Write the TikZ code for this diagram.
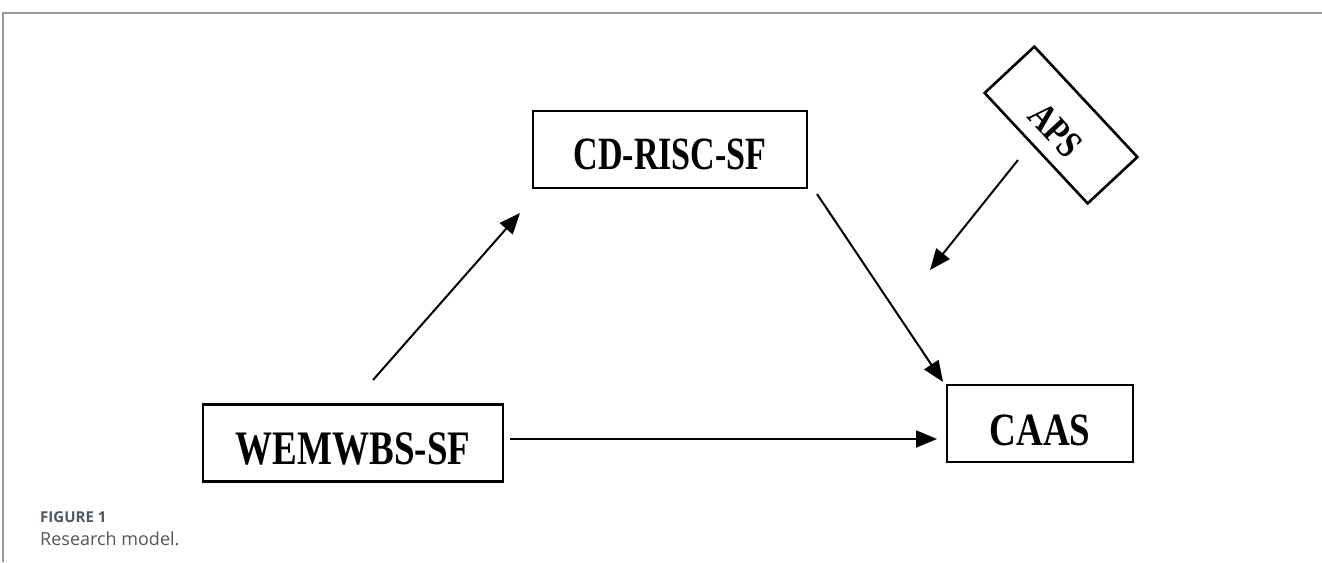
\documentclass[tikz,border=0pt]{standalone}
\usepackage{fontspec}
\setmainfont{Liberation Serif}
\newfontfamily\capfont{Open Sans}
\usetikzlibrary{arrows.meta}
\definecolor{framegray}{HTML}{9A9A9A}
\definecolor{figlabel}{HTML}{4A5868}
\definecolor{captxt}{HTML}{555555}
% #1 size, #2 vertical stretch, #3 baseline shift, #4 text
\newcommand{\boxtxt}[4]{\raisebox{#3}[0pt][0pt]{\scalebox{1}[#2]{\fontsize{#1}{40}\selectfont\bfseries #4}}}
\tikzset{
  varbox/.style={draw=black, line width=2.6pt, inner sep=0pt, minimum height=77pt, align=center},
  conn/.style={line width=2pt, -{Triangle[length=21pt,width=17pt]}},
}
\begin{document}
\begin{tikzpicture}[x=1pt,y=1pt]
\useasboundingbox (0,0) rectangle (1322,-562);
% frame
\draw[framegray, line width=1.5pt] (3,-562) -- (3,-13) -- (1322,-13);
% boxes
\node[varbox, minimum width=274pt] (cd) at (670,-149.5) {\boxtxt{34}{1.36}{-20pt}{CD-RISC-SF}};
\node[varbox, minimum width=300pt] (wem) at (353,-443) {\boxtxt{37}{1.3}{-21pt}{WEMWBS-SF}};
\node[varbox, minimum width=186pt] (caas) at (1040,-423.5) {\boxtxt{37}{1.25}{-22pt}{CAAS}};
\node[varbox, minimum width=151pt, minimum height=68pt, rotate=-47] (aps) at (1061,-125) {\boxtxt{31}{1.25}{-20pt}{APS}};
% arrow end points
\coordinate (a1s) at (373,-380);
\coordinate (a1e) at (520,-213);
\coordinate (a2s) at (817,-194);
\coordinate (a2e) at (943,-382);
\coordinate (a3s) at (1018,-160);
\coordinate (a3e) at (930,-270);
\coordinate (a4s) at (510,-439);
\coordinate (a4e) at (937,-439);
\draw[conn] (a1s) -- (a1e);
\draw[conn] (a2s) -- (a2e);
\draw[conn] (a3s) -- (a3e);
\draw[conn] (a4s) -- (a4e);
% caption
\node[anchor=west, inner sep=0pt, text=figlabel] (figl) at (40,-517) {\capfont\fontsize{15}{17}\selectfont\bfseries FIGURE 1};
\node[anchor=west, inner sep=0pt, text=captxt] (figc) at (40,-539) {\capfont\fontsize{18}{20}\selectfont Research model.};
\end{tikzpicture}
\end{document}
